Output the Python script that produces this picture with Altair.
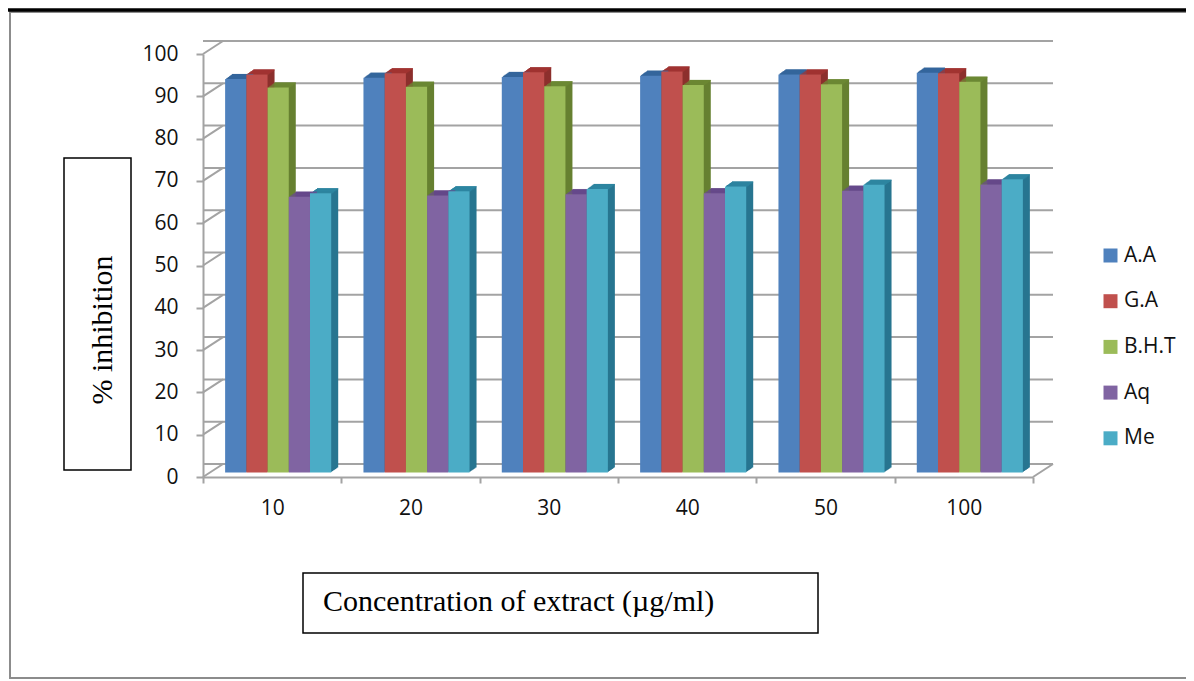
import altair as alt
import pandas as pd

concentrations = ["10", "20", "30", "40", "50", "100"]
series = ["A.A", "G.A", "B.H.T", "Aq", "Me"]
aa = [93.0, 93.3, 93.5, 93.8, 94.1, 94.5]
ga = [94.1, 94.4, 94.6, 94.8, 94.1, 94.4]
bht = [91.0, 91.2, 91.3, 91.6, 91.8, 92.4]
aq = [65.2, 65.5, 65.8, 66.0, 66.6, 68.1]
me = [66.0, 66.5, 67.0, 67.6, 68.0, 69.3]
ticks = [0, 10, 20, 30, 40, 50, 60, 70, 80, 90, 100]
front_colors = ["#4f81bd", "#c0504d", "#9bbb59", "#8064a2", "#4bacc6"]
side_colors = ["#2f5f90", "#8c2f2c", "#668030", "#5a4578", "#277590"]
top_colors = ["#36689f", "#a83533", "#6d8a35", "#6a4a90", "#2f8aa5"]

rows = []
for name, vals in zip(series, [aa, ga, bht, aq, me]):
    for c, v in zip(concentrations, vals):
        rows.append({"conc": c, "series": name, "value": v})
df = pd.DataFrame(rows)
tick_df = pd.DataFrame({"tick": ticks})
cat_df = pd.DataFrame({"conc": concentrations})
one = pd.DataFrame({"a": [1]})

W, H = 830, 423
GRID = "#a3a3a3"
DX, DY = 6, 4.5      # bars stand a little inside the floor
DEPTH_X, DEPTH_Y = 7, 5


def x_at(shift):
    return alt.X("conc:N", sort=concentrations, title=None, axis=None,
                 scale=alt.Scale(domain=concentrations, paddingInner=0, paddingOuter=0,
                                 range=[shift, W + shift]))


xoff = alt.XOffset("series:N", sort=series,
                   scale=alt.Scale(domain=series, paddingInner=0, paddingOuter=0.76))
y = alt.Y("value:Q", title=None, scale=alt.Scale(domain=[0, 100]))


def color(range_):
    return alt.Color("series:N", legend=None, scale=alt.Scale(domain=series, range=range_))


layers = []

# outer frame, rule below running head
layers.append(alt.Chart(one).mark_rect(fill="transparent", stroke="#8c8c8c", strokeWidth=2).encode(
    x=alt.value(-193), x2=alt.value(1000), y=alt.value(-42), y2=alt.value(624)))
layers.append(alt.Chart(one).mark_rule(color="#000000", strokeWidth=3.5).encode(
    x=alt.value(-195), x2=alt.value(985), y=alt.value(-44)))

# back wall and floor
layers.append(alt.Chart(tick_df).mark_rule(color=GRID, strokeWidth=2, xOffset=20, yOffset=-13).encode(
    y=alt.Y("tick:Q", scale=alt.Scale(domain=[0, 100]),
            axis=alt.Axis(values=ticks, title=None, grid=False, domainColor=GRID, domainWidth=2,
                          tickColor=GRID, tickWidth=2, tickSize=7, labelFont="Open Sans",
                          labelFontSize=21, labelColor="#111111", labelPadding=18))))
layers.append(alt.Chart(tick_df).mark_rule(color=GRID, strokeWidth=2, y2Offset=-13).encode(
    x=alt.value(0), x2=alt.value(20), y=alt.Y("tick:Q"), y2=alt.Y2("tick:Q")))
layers.append(alt.Chart(tick_df[tick_df.tick == 0]).mark_rule(color=GRID, strokeWidth=2, y2Offset=-13).encode(
    x=alt.value(W), x2=alt.value(W + 20), y=alt.Y("tick:Q"), y2=alt.Y2("tick:Q")))

# category axis, drawn from an unshifted band scale
layers.append(alt.Chart(cat_df).mark_rule(opacity=0).encode(
    x=alt.X("conc:N", sort=concentrations, title=None,
            scale=alt.Scale(domain=concentrations, paddingInner=0, paddingOuter=0, range=[0, W]),
            axis=alt.Axis(labelAngle=0, tickBand="extent", grid=False, domainColor=GRID, domainWidth=2,
                          tickColor=GRID, tickWidth=2, tickSize=6, labelFont="Open Sans",
                          labelFontSize=21, labelColor="#111111", labelPadding=14))))

# side faces
for d in range(1, DEPTH_X + 1):
    yo = -DY - d * DEPTH_Y / DEPTH_X
    layers.append(alt.Chart(df).mark_bar(yOffset=yo, y2Offset=yo).encode(
        x=x_at(DX + d), xOffset=xoff, y=y, color=color(side_colors)))
# top faces
for k in range(1, DEPTH_Y + 1):
    yo = -DY - k + 0.5
    layers.append(alt.Chart(df).mark_tick(yOffset=yo, thickness=1.4, size=21.2).encode(
        x=x_at(DX + k * DEPTH_X / DEPTH_Y), xOffset=xoff, y=y, color=color(top_colors)))
# front faces
layers.append(alt.Chart(df).mark_bar(yOffset=-DY, y2Offset=-DY).encode(
    x=x_at(DX), xOffset=xoff, y=y,
    color=alt.Color("series:N", sort=series, title=None,
                    scale=alt.Scale(domain=series, range=front_colors),
                    legend=alt.Legend(orient="none", legendX=897, legendY=191, symbolType="square",
                                      symbolSize=196, symbolStrokeWidth=0, labelFont="Open Sans",
                                      labelFontSize=21, labelColor="#111111", rowPadding=23.7,
                                      labelOffset=3, padding=0))))

# annotation boxes
layers.append(alt.Chart(one).mark_rect(fill="transparent", stroke="#000000", strokeWidth=1.5).encode(
    x=alt.value(-139), x2=alt.value(-72), y=alt.value(104), y2=alt.value(416)))
layers.append(alt.Chart(one).mark_text(text="% inhibition", font="Liberation Serif", fontSize=30, angle=270,
                                       color="#000000").encode(x=alt.value(-100), y=alt.value(276)))
layers.append(alt.Chart(one).mark_rect(fill="transparent", stroke="#000000", strokeWidth=1.5).encode(
    x=alt.value(100), x2=alt.value(615), y=alt.value(519), y2=alt.value(579)))
layers.append(alt.Chart(one).mark_text(text="Concentration of extract (µg/ml)", font="Liberation Serif",
                                       fontSize=30, align="left", color="#000000").encode(
    x=alt.value(120), y=alt.value(548)))

chart = alt.layer(*layers).resolve_scale(color="independent", x="independent").properties(
    width=W, height=H,
    padding={"left": 195, "top": 46, "right": 153, "bottom": 202},
    autosize=alt.AutoSizeParams(type="none"),
).configure_view(stroke=None).configure_axis(grid=False)

chart.save("out.html", embed_options={"renderer": "svg", "actions": False})
